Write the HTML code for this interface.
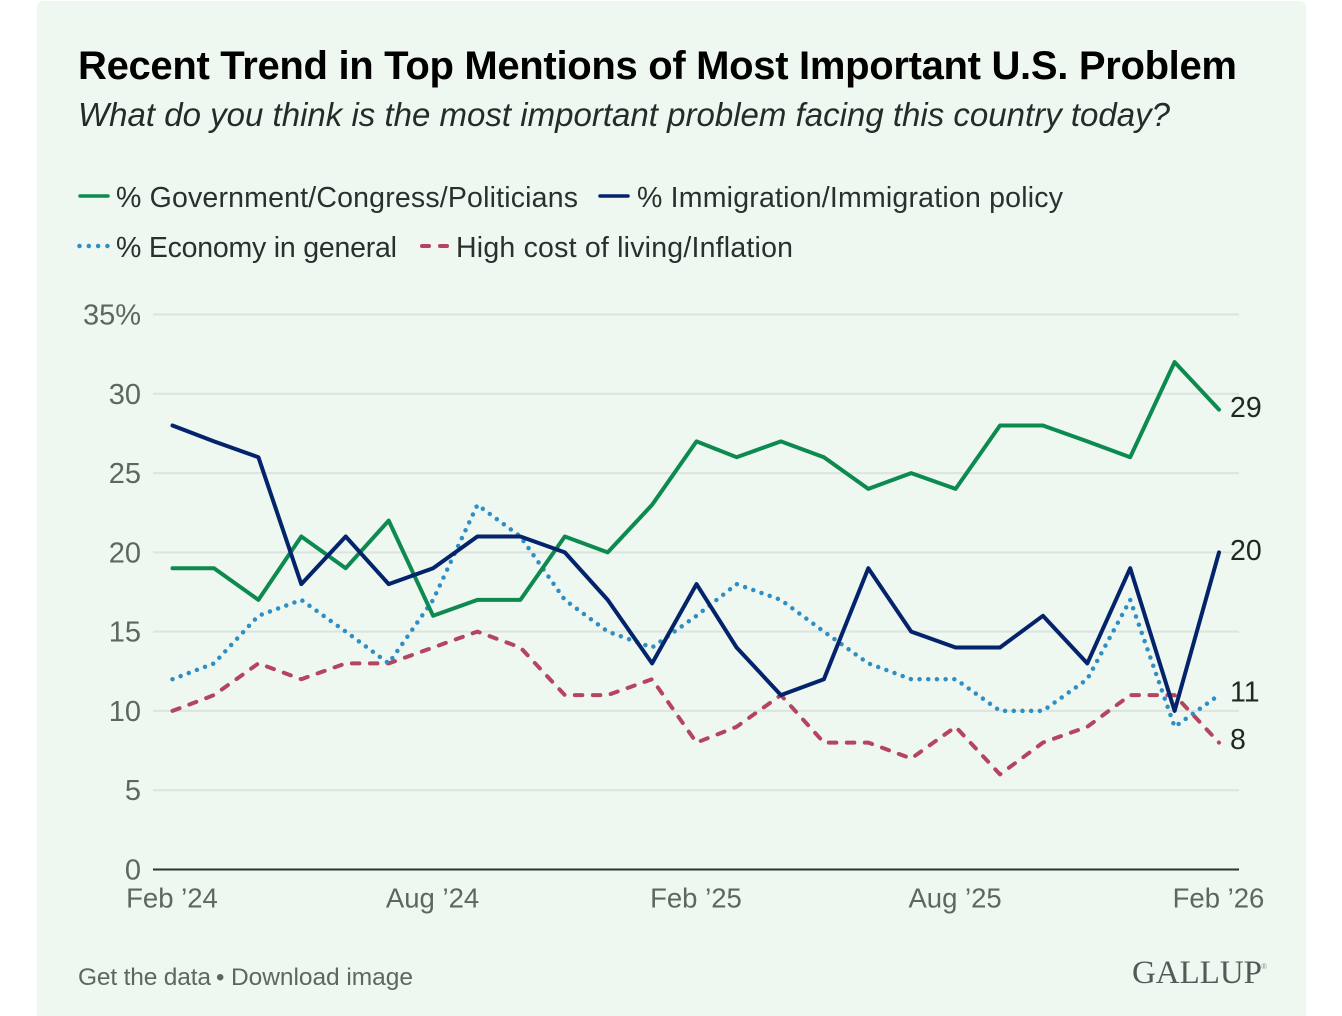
<!DOCTYPE html>
<html lang="en">
<head>
<meta charset="utf-8">
<title>Recent Trend in Top Mentions of Most Important U.S. Problem</title>
<style>
html,body{margin:0;padding:0;background:#fff;}
body{width:1342px;height:1016px;overflow:hidden;}
svg{display:block;font-family:"Liberation Sans",sans-serif;}
</style>
</head>
<body>
<svg id="chart" width="1342" height="1016" viewBox="0 0 1342 1016" xmlns="http://www.w3.org/2000/svg">
  <rect x="37" y="1" width="1269" height="1030" rx="6" fill="#eef7f0"/>
  <text x="78" y="79" font-size="40" font-weight="700" fill="#000" textLength="1159" lengthAdjust="spacing">Recent Trend in Top Mentions of Most Important U.S. Problem</text>
  <text x="78" y="126" font-size="33" font-style="italic" fill="#262b27" textLength="1092" lengthAdjust="spacing">What do you think is the most important problem facing this country today?</text>

  <g font-size="28.5" fill="#2b302c">
    <line x1="80" x2="108" y1="196" y2="196" stroke="#0d8a4f" stroke-width="3.5" stroke-linecap="round"/>
    <text x="116" y="207" textLength="462" lengthAdjust="spacing">% Government/Congress/Politicians</text>
    <line x1="600" x2="628" y1="196" y2="196" stroke="#03236b" stroke-width="3.5" stroke-linecap="round"/>
    <text x="637" y="207" textLength="426" lengthAdjust="spacing">% Immigration/Immigration policy</text>
    <line x1="79.5" x2="110" y1="246" y2="246" stroke="#2f8fc4" stroke-width="4.5" stroke-linecap="round" stroke-dasharray="0 9.3"/>
    <text x="116" y="257" textLength="281" lengthAdjust="spacing">% Economy in general</text>
    <line x1="422" x2="447" y1="246" y2="246" stroke="#b5445f" stroke-width="4" stroke-linecap="round" stroke-dasharray="7 11"/>
    <text x="456" y="257" textLength="337" lengthAdjust="spacing">High cost of living/Inflation</text>
  </g>

  <g id="grid"></g>
  <g id="y-axis"></g>
  <g id="x-axis"></g>
  <g id="series"></g>
  <g id="end-labels"></g>

  <text x="78" y="985" font-size="24.5" fill="#5f6660" textLength="133" lengthAdjust="spacing">Get the data</text>
  <text x="216" y="985" font-size="24" fill="#5f6660">•</text>
  <text x="231" y="985" font-size="24.5" fill="#5f6660" textLength="182" lengthAdjust="spacing">Download image</text>
  <text x="1132" y="983" font-family="'Liberation Serif',serif" font-size="33" fill="#565a56" textLength="130" lengthAdjust="spacingAndGlyphs">GALLUP</text>
  <text x="1261" y="969" font-family="'Liberation Serif',serif" font-size="8" fill="#8a8e8a">®</text>
</svg>
<script>
const monthCount = 25;
const startYear = 2024;
const startMonth = 1;
const yTicks = [0, 5, 10, 15, 20, 25, 30, 35];
const xTickIndexes = [0, 6, 12, 18, 24];
const xTickLabels = ["Feb \u201924", "Aug \u201924", "Feb \u201925", "Aug \u201925", "Feb \u201926"];
const government = [19,19,17,21,19,22,16,17,17,21,20,23,27,26,27,26,24,25,24,28,28,27,26,32,29];
const immigration = [28,27,26,18,21,18,19,21,21,20,17,13,18,14,11,12,19,15,14,14,16,13,19,10,20];
const economy = [12,13,16,17,15,13,17,23,21,17,15,14,16,18,17,15,13,12,12,10,10,12,17,9,11];
const costOfLiving = [10,11,13,12,13,13,14,15,14,11,11,12,8,9,11,8,8,7,9,6,8,9,11,11,8];

const NS = 'http://www.w3.org/2000/svg';
const plotLeft = 172.5, plotRight = 1219, axisLeft = 153, axisRight = 1239, yZero = 869.5, yTop = 314.5, yMax = 35;
function monthTime(i) { return Date.UTC(startYear, startMonth + i, 1); }
function xScale(i) {
  const t0 = monthTime(0), t1 = monthTime(monthCount - 1);
  return plotLeft + (plotRight - plotLeft) * (monthTime(i) - t0) / (t1 - t0);
}
function yScale(v) { return yZero - (yZero - yTop) * v / yMax; }
function make(tag, attrs, parent, text) {
  const el = document.createElementNS(NS, tag);
  for (const k in attrs) el.setAttribute(k, attrs[k]);
  if (text !== undefined) el.textContent = text;
  parent.appendChild(el);
  return el;
}
const grid = document.getElementById('grid');
const yAxis = document.getElementById('y-axis');
const xAxis = document.getElementById('x-axis');
const seriesGroup = document.getElementById('series');
const endLabels = document.getElementById('end-labels');

yTicks.forEach(function (t) {
  const y = yScale(t);
  const line = make('line', {x1: axisLeft, x2: axisRight, y1: y, y2: y, stroke: t === 0 ? '#2c362e' : '#dbe4dd', 'stroke-width': 2}, grid);
  
  
  const label = make('text', {x: 141, y: y + 10, 'text-anchor': 'end', 'font-size': 29, fill: '#5f6660'}, yAxis, t === 35 ? '35%' : String(t));
  
  
});

xTickIndexes.forEach(function (idx, n) {
  const label = make('text', {x: xScale(idx) - 0.5, y: 907.5, 'text-anchor': 'middle', 'font-size': 27.5, fill: '#5f6660'}, xAxis, xTickLabels[n]);
  
  
});

function drawSeries(values, color, width, dash, name) {
  const pts = values.map(function (v, i) { return xScale(i).toFixed(1) + ',' + yScale(v).toFixed(1); }).join(' ');
  const attrs = {points: pts, fill: 'none', stroke: color, 'stroke-width': width, 'stroke-linejoin': 'round', 'stroke-linecap': 'round'};
  if (dash) attrs['stroke-dasharray'] = dash;
  const line = make('polyline', attrs, seriesGroup);
  
  
}
drawSeries(costOfLiving, '#b5445f', 4, '7.5 10.5', 'line-cost-of-living');
drawSeries(economy, '#2f8fc4', 4.5, '0 8.7', 'line-economy');
drawSeries(government, '#0d8a4f', 4, null, 'line-government');
drawSeries(immigration, '#03236b', 4, null, 'line-immigration');

function drawEndLabel(values, dy, name) {
  const last = values[values.length - 1];
  const label = make('text', {x: 1230, y: yScale(last) + dy, 'font-size': 28.5, fill: '#232823'}, endLabels, String(last));
  
  
}
drawEndLabel(government, 7.5, 'end-label-government');
drawEndLabel(immigration, 7.5, 'end-label-immigration');
drawEndLabel(economy, 6.5, 'end-label-economy');
drawEndLabel(costOfLiving, 6.5, 'end-label-cost-of-living');
</script>
</body>
</html>
